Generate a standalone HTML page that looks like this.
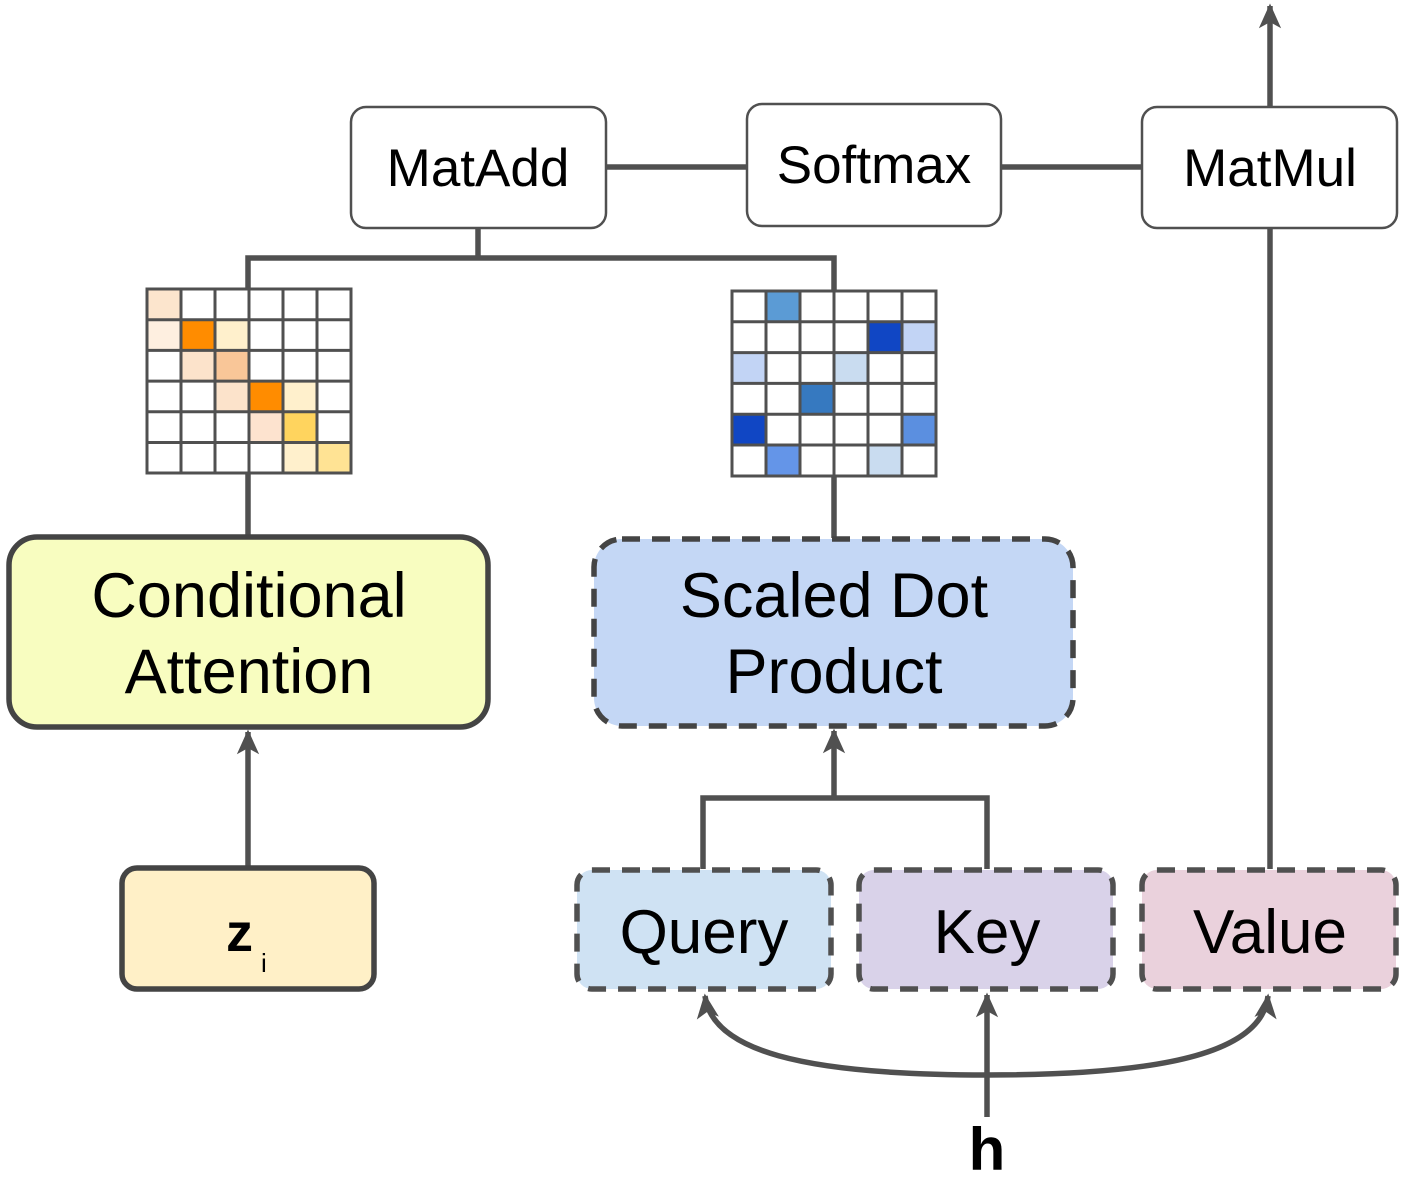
<!DOCTYPE html>
<html><head><meta charset="utf-8"><style>html,body{margin:0;padding:0;background:#fff}svg{display:block}</style></head>
<body>
<svg width="1401" height="1178" viewBox="0 0 1401 1178" xmlns="http://www.w3.org/2000/svg" font-family="Liberation Sans, Arial, sans-serif">
<defs>
<marker id="ah" viewBox="0 0 20 20" refX="18" refY="10" markerWidth="4.5" markerHeight="4.5" orient="auto" markerUnits="strokeWidth">
<path d="M20 10 L0 1 L5 10 L0 19 Z" fill="#505050"/>
</marker>
</defs>
<g stroke="#505050" stroke-width="5.5" fill="none">
<line x1="606" y1="167" x2="747" y2="167"/>
<line x1="1001" y1="167" x2="1142" y2="167"/>
<line x1="1270" y1="107" x2="1270" y2="6" marker-end="url(#ah)"/>
<line x1="1270" y1="228" x2="1270" y2="869"/>
<polyline points="478,228 478,258"/>
<polyline points="248,288 248,258 834,258 834,290"/>
<line x1="248" y1="473" x2="248" y2="537"/>
<line x1="834" y1="476" x2="834" y2="538"/>
<line x1="248" y1="867" x2="248" y2="732" marker-end="url(#ah)"/>
<polyline points="703,869 703,798 987,798 987,869"/>
<line x1="834" y1="798" x2="834" y2="731" marker-end="url(#ah)"/>
<line x1="987" y1="1117" x2="987" y2="995" marker-end="url(#ah)"/>
<path d="M987 1075 C800 1075 712 1050 705 996" marker-end="url(#ah)"/>
<path d="M987 1075 C1174 1075 1262 1050 1268 996" marker-end="url(#ah)"/>
</g>
<g stroke="#505050" stroke-width="2.5" fill="#fff">
<rect x="351" y="107" width="255" height="121" rx="15"/>
<rect x="747" y="104" width="254" height="122" rx="15"/>
<rect x="1142" y="107" width="255" height="121" rx="15"/>
</g>
<g font-size="53" text-anchor="middle" fill="#000">
<text x="478" y="186">MatAdd</text>
<text x="874" y="183">Softmax</text>
<text x="1270" y="186">MatMul</text>
</g>
<rect x="9" y="537" width="479" height="190" rx="28" fill="#f8fdc0" stroke="#444" stroke-width="5.5"/>
<rect x="594" y="539" width="479" height="187" rx="28" fill="#c4d7f5" stroke="#444" stroke-width="5.5" stroke-dasharray="18,12"/>
<rect x="122" y="868" width="252" height="121" rx="15" fill="#fff0c7" stroke="#444" stroke-width="5.5"/>
<rect x="577" y="870" width="254" height="119" rx="15" fill="#cfe2f3" stroke="#505050" stroke-width="5.5" stroke-dasharray="18,12"/>
<rect x="859" y="870" width="254" height="119" rx="15" fill="#d9d2e9" stroke="#505050" stroke-width="5.5" stroke-dasharray="18,12"/>
<rect x="1142" y="870" width="254" height="119" rx="15" fill="#ead1dc" stroke="#505050" stroke-width="5.5" stroke-dasharray="18,12"/>
<g font-size="63" text-anchor="middle" fill="#000">
<text x="249" y="617">Conditional</text>
<text x="249" y="693">Attention</text>
<text x="834" y="617">Scaled Dot</text>
<text x="834" y="693">Product</text>
<text x="704" y="953" font-size="62">Query</text>
<text x="987" y="953" font-size="62">Key</text>
<text x="1270" y="953" font-size="62">Value</text>
</g>
<text x="226" y="951" font-size="54" font-weight="bold">z</text>
<text x="261" y="972" font-size="26">i</text>
<text x="987" y="1170" font-size="60" font-weight="bold" text-anchor="middle">h</text>
<g transform="translate(147,289)">
<rect x="0" y="0" width="34" height="30.7" fill="#fce5cd"/>
<rect x="0" y="30.7" width="34" height="30.7" fill="#feefe0"/>
<rect x="34" y="30.7" width="34" height="30.7" fill="#ff8c00"/>
<rect x="68" y="30.7" width="34" height="30.7" fill="#fff0cc"/>
<rect x="34" y="61.4" width="34" height="30.7" fill="#fce3cb"/>
<rect x="68" y="61.4" width="34" height="30.7" fill="#f9c698"/>
<rect x="68" y="92.1" width="34" height="30.7" fill="#fce3cb"/>
<rect x="102" y="92.1" width="34" height="30.7" fill="#ff8c00"/>
<rect x="136" y="92.1" width="34" height="30.7" fill="#fff0cc"/>
<rect x="102" y="122.8" width="34" height="30.7" fill="#fde3cf"/>
<rect x="136" y="122.8" width="34" height="30.7" fill="#ffd45e"/>
<rect x="136" y="153.5" width="34" height="30.7" fill="#fff0cc"/>
<rect x="170" y="153.5" width="34" height="30.7" fill="#ffe394"/>
<g stroke="#505050" stroke-width="3" fill="none">
<rect x="0" y="0" width="204" height="184"/>
<path d="M34 0V184M68 0V184M102 0V184M136 0V184M170 0V184M0 30.7H204M0 61.4H204M0 92.1H204M0 122.8H204M0 153.5H204"/>
</g></g>
<g transform="translate(732,291)">
<rect x="34" y="0" width="34" height="30.8" fill="#5b9bd5"/>
<rect x="136" y="30.8" width="34" height="30.8" fill="#1046c4"/>
<rect x="170" y="30.8" width="34" height="30.8" fill="#c2d4f5"/>
<rect x="0" y="61.6" width="34" height="30.8" fill="#c2d4f5"/>
<rect x="102" y="61.6" width="34" height="30.8" fill="#c9dcf0"/>
<rect x="68" y="92.4" width="34" height="30.8" fill="#3679c0"/>
<rect x="0" y="123.2" width="34" height="30.8" fill="#1046c4"/>
<rect x="170" y="123.2" width="34" height="30.8" fill="#5b8fe0"/>
<rect x="34" y="154" width="34" height="30.8" fill="#6495e8"/>
<rect x="136" y="154" width="34" height="30.8" fill="#c9dcf0"/>
<g stroke="#505050" stroke-width="3" fill="none">
<rect x="0" y="0" width="204" height="185"/>
<path d="M34 0V185M68 0V185M102 0V185M136 0V185M170 0V185M0 30.8H204M0 61.6H204M0 92.4H204M0 123.2H204M0 154H204"/>
</g></g>
</svg>
</body></html>
